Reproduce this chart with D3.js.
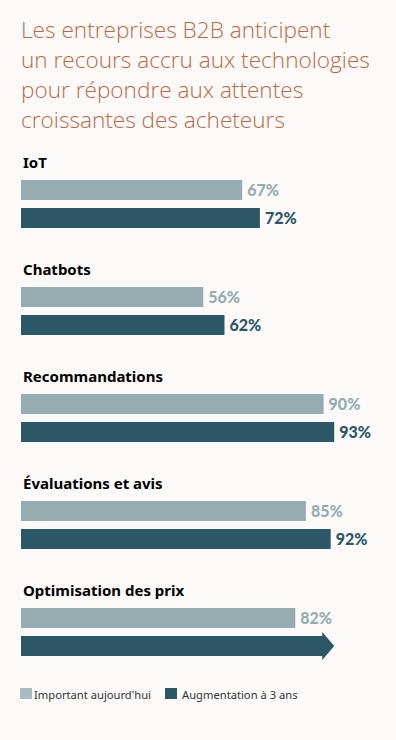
<!DOCTYPE html>
<html>
<head>
<meta charset="utf-8">
<script src="https://cdn.jsdelivr.net/npm/d3@7"></script>
<style>
  body { margin: 0; background: #fcfaf9; }
  svg { display: block; }
</style>
</head>
<body>
<div id="chart"></div>
<script>
var titleLines = ["Les entreprises B2B anticipent",
                  "un recours accru aux technologies",
                  "pour répondre aux attentes",
                  "croissantes des acheteurs"];
var categories = ["IoT", "Chatbots", "Recommandations", "Évaluations et avis", "Optimisation des prix"];
var aujourdhui = [67, 56, 90, 85, 82];
var augmentation = [72, 62, 93, 92, 93];
// the last one is drawn as an arrow, without a figure
var showAugLabel = [true, true, true, true, false];
var seriesNames = ["Important aujourd'hui", "Augmentation à 3 ans"];

var width = 396, height = 740;
var left = 21;
var lightColor = "#95adb0", darkColor = "#2c5766";

var svg = d3.select("#chart").append("svg")
    .attr("width", width)
    .attr("height", height);

svg.append("rect").attr("width", width).attr("height", height).attr("fill", "#fcfaf9");

// title
svg.append("g").selectAll("text")
    .data(titleLines)
  .enter().append("text")
    .attr("x", left)
    .attr("y", function(d, i) { return 38 + i * 30; })
    .style("font-family", "'Open Sans', sans-serif")
    .style("font-weight", 300)
    .style("font-size", "22.6px")
    .attr("fill", "#bb6a44")
    .text(function(d) { return d; });

var x = d3.scaleLinear()
    .domain([0, 100])
    .range([5, 359]);

var y = d3.scaleBand()
    .domain(categories)
    .range([180, 715])
    .paddingInner(0);

var barH = 20, gap = 8;

var groups = svg.selectAll(".cat")
    .data(categories)
  .enter().append("g")
    .attr("class", "cat")
    .attr("transform", function(d) { return "translate(0," + y(d) + ")"; });

groups.append("text")
    .attr("x", left + 2)
    .attr("y", -12)
    .style("font-family", "'Noto Sans', sans-serif")
    .style("font-weight", 700)
    .style("font-size", "15px")
    .attr("fill", "#000")
    .text(function(d) { return d; });

groups.append("rect")
    .attr("x", left)
    .attr("y", 0)
    .attr("height", barH)
    .attr("width", function(d, i) { return x(aujourdhui[i]) - left; })
    .attr("fill", lightColor);

groups.append("text")
    .attr("x", function(d, i) { return x(aujourdhui[i]) + 5; })
    .attr("y", barH / 2)
    .attr("dy", "0.36em")
    .style("font-family", "Lato, sans-serif")
    .style("font-weight", 900)
    .style("font-size", "16px")
    .attr("fill", lightColor)
    .text(function(d, i) { return aujourdhui[i] + "%"; });

groups.each(function(d, i) {
  var g = d3.select(this);
  var y0 = barH + gap;
  if (showAugLabel[i]) {
    g.append("rect")
        .attr("x", left)
        .attr("y", y0)
        .attr("height", barH)
        .attr("width", x(augmentation[i]) - left)
        .attr("fill", darkColor);
    g.append("text")
        .attr("x", x(augmentation[i]) + 5)
        .attr("y", y0 + barH / 2)
        .attr("dy", "0.36em")
        .style("font-family", "Lato, sans-serif")
        .style("font-weight", 900)
        .style("font-size", "16px")
        .attr("fill", darkColor)
        .text(augmentation[i] + "%");
  } else {
    var tip = x(augmentation[i]), head = 12, over = 4;
    var pts = [[left, y0], [tip - head, y0], [tip - head, y0 - over], [tip, y0 + barH / 2],
               [tip - head, y0 + barH + over], [tip - head, y0 + barH], [left, y0 + barH]];
    g.append("path")
        .attr("d", d3.line()(pts) + "Z")
        .attr("fill", darkColor);
  }
});

// legend
var legend = svg.append("g").attr("transform", "translate(20,688)");
var legX = [0, 145];
var legColors = ["#a6bec1", darkColor];
var items = legend.selectAll("g")
    .data(seriesNames)
  .enter().append("g")
    .attr("transform", function(d, i) { return "translate(" + legX[i] + ",0)"; });
items.append("rect")
    .attr("width", 12).attr("height", 11)
    .attr("fill", function(d, i) { return legColors[i]; });
items.append("text")
    .attr("x", function(d, i) { return i == 0 ? 14 : 17; })
    .attr("y", 11)
    .style("font-family", "'Noto Sans', sans-serif")
    .style("font-size", "11.2px")
    .attr("fill", "#333")
    .text(function(d) { return d; });
</script>
</body>
</html>
